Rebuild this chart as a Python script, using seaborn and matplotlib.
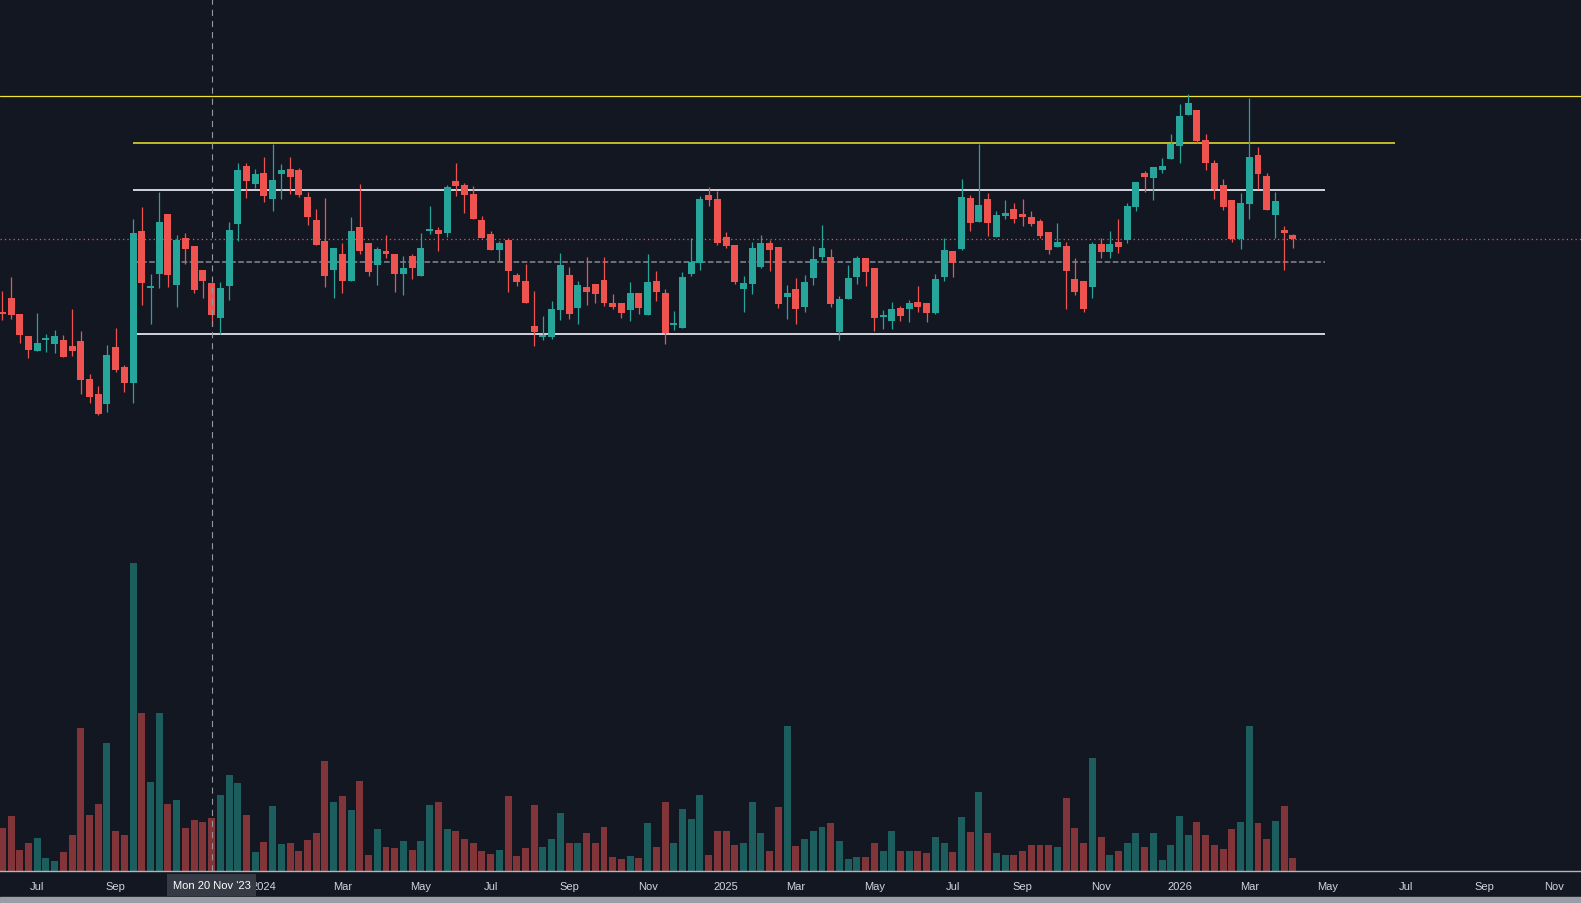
import numpy as np
import pandas as pd
import seaborn as sns
import matplotlib.pyplot as plt
from matplotlib.patches import Rectangle

# ===== weekly bars, first bar on Mon 5 Jun 2023 =====
start_date = "2023-06-05"

open_ = [68.6, 70.1, 68.5, 66.3, 64.8, 65.95, 65.5, 65.9, 65.3, 65.8,
         62.0, 60.5, 59.5, 65.2, 63.2, 61.6, 76.8, 71.15, 72.5, 78.5,
         71.4, 76.1, 75.3, 72.9, 71.6, 68.1, 71.3, 77.5, 83.3, 81.5,
         82.6, 80.0, 82.5, 83.0, 82.9, 80.2, 77.9, 75.8, 72.9, 74.5,
         71.8, 77.2, 75.6, 73.4, 74.8, 74.5, 72.5, 74.3, 72.3, 76.85,
         76.9, 76.6, 81.8, 81.4, 80.5, 77.9, 76.5, 74.9, 75.9, 72.4,
         71.8, 67.3, 66.25, 66.2, 68.9, 72.4, 69.1, 71.2, 71.5, 71.9,
         69.6, 69.6, 68.9, 70.6, 68.4, 71.8, 70.6, 67.45, 67.1, 72.5,
         73.6, 80.4, 80.0, 76.2, 75.4, 71.0, 71.5, 73.2, 75.6, 75.2,
         70.2, 71.0, 69.2, 72.1, 74.2, 74.2, 66.7, 70.0, 72.2, 74.1,
         73.1, 68.25, 67.8, 69.1, 69.0, 69.7, 69.6, 68.6, 72.2, 74.8,
         75.0, 80.1, 77.7, 80.0, 76.2, 78.3, 79.0, 78.5, 78.2, 77.8,
         76.7, 75.2, 75.3, 72.0, 71.8, 71.2, 75.5, 74.7, 75.7, 75.9,
         79.2, 82.6, 82.1, 82.9, 84.0, 85.3, 88.4, 88.9, 85.9, 83.6,
         81.4, 79.9, 76.0, 79.5, 84.4, 82.3, 78.4, 76.9, 76.4]

high = [70.8, 72.2, 68.5, 66.3, 68.6, 66.5, 66.9, 66.4, 69.0, 66.8,
        62.5, 61.3, 65.4, 67.1, 63.4, 78.0, 79.2, 72.5, 80.7, 78.5,
        76.4, 76.6, 75.3, 72.9, 71.6, 71.7, 77.7, 83.6, 83.6, 83.0,
        84.2, 85.5, 83.5, 84.2, 83.1, 80.7, 79.0, 80.1, 75.1, 75.6,
        78.2, 81.5, 75.6, 75.2, 76.4, 74.5, 74.3, 74.5, 76.6, 79.3,
        77.2, 81.4, 83.6, 81.6, 81.3, 78.3, 76.8, 75.8, 76.1, 72.6,
        73.5, 70.8, 68.3, 69.8, 74.6, 73.2, 71.8, 74.2, 71.5, 74.2,
        70.5, 69.6, 71.7, 70.6, 74.5, 72.8, 71.0, 68.8, 72.7, 76.1,
        80.3, 81.2, 80.8, 76.7, 75.4, 72.3, 75.7, 76.4, 75.9, 75.2,
        71.4, 72.1, 72.4, 75.3, 77.4, 75.0, 70.3, 73.4, 74.3, 74.1,
        73.1, 68.9, 69.7, 69.3, 69.9, 71.3, 69.6, 72.5, 76.1, 74.8,
        82.0, 80.4, 85.5, 80.6, 78.8, 79.9, 79.6, 80.0, 78.8, 78.0,
        76.7, 77.6, 75.7, 74.1, 71.8, 75.7, 76.1, 76.8, 78.0, 79.6,
        81.7, 82.8, 83.2, 84.1, 86.5, 89.5, 90.5, 88.9, 86.5, 83.9,
        82.0, 79.9, 80.6, 90.1, 85.2, 82.6, 80.7, 77.3, 76.5]

low = [67.9, 68.0, 65.6, 64.1, 64.8, 64.7, 64.6, 64.2, 64.3, 60.5,
       59.6, 58.4, 58.7, 62.7, 60.7, 59.6, 69.4, 67.5, 71.1, 71.2,
       69.2, 73.5, 70.6, 70.1, 67.3, 66.5, 69.9, 75.8, 80.1, 81.1,
       79.7, 78.8, 80.0, 80.5, 80.2, 77.4, 75.4, 71.2, 70.1, 70.6,
       71.8, 74.5, 72.3, 71.4, 74.1, 70.7, 70.4, 72.0, 72.3, 76.5,
       74.8, 76.2, 80.3, 78.6, 78.0, 76.1, 74.9, 73.8, 70.7, 71.3,
       69.6, 65.3, 65.9, 66.0, 67.9, 68.0, 67.5, 69.4, 69.6, 69.3,
       69.0, 68.1, 67.8, 68.5, 68.4, 69.8, 65.5, 66.9, 67.1, 72.3,
       72.9, 79.3, 75.4, 75.1, 71.5, 68.7, 70.5, 73.1, 72.8, 69.1,
       68.0, 67.5, 68.7, 71.4, 73.9, 69.2, 65.9, 70.0, 71.5, 71.3,
       66.8, 67.0, 67.0, 67.8, 67.7, 68.7, 67.7, 68.5, 71.8, 72.2,
       74.9, 76.8, 77.7, 76.3, 76.2, 78.0, 77.6, 77.3, 77.3, 76.1,
       74.5, 75.2, 69.0, 70.4, 68.7, 70.1, 74.1, 74.1, 74.6, 75.6,
       78.8, 80.7, 79.9, 82.6, 84.0, 83.6, 88.4, 85.6, 82.9, 80.0,
       78.9, 75.7, 75.0, 78.0, 81.0, 78.9, 76.1, 72.9, 75.1]

close = [68.55, 68.4, 66.4, 64.9, 65.6, 66.0, 66.3, 64.2, 64.8, 61.9,
         60.2, 58.5, 64.4, 62.9, 61.6, 76.6, 71.6, 71.2, 77.7, 72.4,
         75.9, 75.0, 70.9, 71.8, 68.4, 71.1, 76.9, 82.9, 81.8, 82.5,
         80.3, 81.9, 82.9, 82.2, 80.4, 78.2, 75.4, 72.3, 75.1, 71.8,
         76.8, 74.8, 72.7, 75.0, 74.5, 72.5, 73.1, 73.1, 75.1, 76.9,
         76.5, 81.2, 81.3, 80.4, 78.0, 76.1, 74.9, 75.6, 72.8, 71.7,
         69.6, 66.7, 66.3, 69.0, 73.4, 68.5, 71.4, 70.7, 70.5, 69.6,
         69.2, 68.6, 70.6, 69.1, 71.7, 70.7, 66.6, 67.5, 72.2, 73.7,
         80.0, 79.9, 75.6, 75.3, 71.7, 71.6, 75.1, 75.6, 74.9, 69.5,
         70.6, 69.0, 71.7, 74.0, 75.1, 69.5, 70.0, 72.1, 74.1, 72.7,
         68.1, 68.3, 69.0, 68.3, 69.6, 69.2, 68.6, 72.0, 74.9, 73.6,
         80.2, 77.6, 79.4, 77.6, 78.4, 78.6, 78.0, 78.2, 77.5, 76.3,
         74.9, 75.7, 72.8, 70.7, 69.0, 75.5, 74.7, 75.5, 75.2, 79.3,
         81.7, 82.2, 83.2, 83.3, 85.5, 88.3, 89.6, 85.8, 83.6, 81.0,
         79.2, 76.0, 79.6, 84.2, 82.5, 78.9, 79.8, 76.6, 76.0]

volume = [4.3, 5.5, 2.1, 2.8, 3.3, 1.3, 1.0, 1.9, 3.6, 14.3,
          5.6, 6.7, 12.8, 4.0, 3.6, 30.8, 15.8, 8.9, 15.8, 6.7,
          7.1, 4.3, 5.1, 4.9, 5.3, 7.6, 9.6, 8.8, 5.6, 1.9,
          2.9, 6.5, 2.7, 2.8, 2.0, 3.1, 3.8, 11.0, 6.9, 7.5,
          6.1, 9.0, 1.6, 4.2, 2.4, 2.3, 3.0, 2.1, 3.0, 6.6,
          6.9, 4.2, 4.0, 3.2, 2.8, 2.0, 1.7, 2.1, 7.5, 1.5,
          2.3, 6.6, 2.4, 3.2, 5.8, 2.8, 2.8, 3.8, 2.8, 4.4,
          1.4, 1.2, 1.5, 1.3, 4.8, 2.4, 6.9, 2.8, 6.2, 5.2,
          7.6, 1.6, 4.0, 4.0, 2.6, 2.8, 6.9, 3.8, 2.0, 6.4,
          14.5, 2.5, 3.2, 4.0, 4.4, 4.8, 3.0, 1.2, 1.4, 1.4,
          2.8, 2.0, 4.0, 2.0, 2.0, 2.0, 1.8, 3.4, 2.8, 1.9,
          5.4, 3.9, 7.9, 3.8, 1.8, 1.6, 1.6, 2.0, 2.6, 2.6,
          2.6, 2.4, 7.3, 4.3, 2.8, 11.3, 3.4, 1.6, 2.0, 2.8,
          3.8, 2.4, 3.8, 1.1, 2.6, 5.5, 3.6, 4.9, 3.6, 2.6,
          2.2, 4.2, 4.9, 14.5, 4.8, 3.2, 5.0, 6.5, 1.3]

tick_dates = ["2023-07-03", "2023-09-04", "2024-01-01", "2024-03-04", "2024-05-06",
              "2024-07-01", "2024-09-02", "2024-11-04", "2025-01-06", "2025-03-03",
              "2025-05-05", "2025-07-07", "2025-09-01", "2025-11-03", "2026-01-05",
              "2026-03-02", "2026-05-04", "2026-07-06", "2026-09-07", "2026-11-02"]
tick_labels = ["Jul", "Sep", "2024", "Mar", "May", "Jul", "Sep", "Nov", "2025", "Mar",
               "May", "Jul", "Sep", "Nov", "2026", "Mar", "May", "Jul", "Sep", "Nov"]

crosshair_date = "2023-11-20"
crosshair_label = "Mon 20 Nov '23"

# drawn levels: (price, start, end, colour, style)
level_start = "2023-09-18"
top_level = 90.35
levels = [
    (85.6, level_start, "2026-06-27", "#f2e42c", "-"),
    (80.95, level_start, "2026-05-02", "#d1d4dc", "-"),
    (73.7, level_start, "2026-05-02", "#868993", "--"),
    (66.55, level_start, "2026-05-02", "#d1d4dc", "-"),
]

BG = "#131722"
UP, DOWN = "#26a69a", "#ef5350"
VOL_UP, VOL_DOWN = "#1c5e5e", "#813539"
TXT = "#d1d4dc"

t0 = pd.Timestamp(start_date)


def week_pos(d):
    return (pd.Timestamp(d) - t0).days / 7.0


sns.set_theme(style="dark", rc={"axes.facecolor": BG, "figure.facecolor": BG})
plt.rcParams["font.family"] = ["Liberation Sans", "DejaVu Sans"]

o = np.array(open_)
h = np.array(high)
l = np.array(low)
c = np.array(close)
x = np.arange(len(o))
up = c >= o
cols = np.where(up, UP, DOWN)

fig = plt.figure(figsize=(15.81, 9.04), dpi=100)
fig.patch.set_facecolor(BG)
ax = fig.add_axes([0, 32 / 904, 1, 872 / 904])
axv = ax.twinx()
ax.set_zorder(2)
ax.patch.set_visible(False)
axv.set_zorder(1)
axv.patch.set_facecolor(BG)

# ===== volume (seaborn) =====
vdf = pd.DataFrame({"x": x, "volume": volume, "dir": np.where(up, "up", "down")})
sns.barplot(data=vdf, x="x", y="volume", hue="dir", palette={"up": VOL_UP, "down": VOL_DOWN},
            native_scale=True, dodge=False, width=0.8, saturation=1, errorbar=None,
            legend=False, linewidth=0, ax=axv)
axv.set_ylim(0, 87.2)

# ===== candles =====
body_lo = np.minimum(o, c)
body_h = np.maximum(np.abs(c - o), 0.12)
ax.vlines(x, l, h, colors=cols, linewidth=0.9, zorder=3)
ax.bar(x, body_h, bottom=body_lo, width=0.8, color=cols, linewidth=0, zorder=4)

# ===== levels =====
ax.axhline(top_level, color="#f2e42c", lw=0.9, zorder=2)
for price, s, e, col, ls in levels:
    lw = 1.4 if ls == "-" and col != "#f2e42c" else 1.1
    ax.hlines(price, week_pos(s), week_pos(e), colors=col, linestyles=ls, lw=lw, zorder=2)
ax.axhline(c[-1], color=DOWN, lw=0.9, ls=(0, (1, 2.5)), zorder=2)

# crosshair
cx = week_pos(crosshair_date)
ax.axvline(cx, color="#9598a1", lw=0.8, ls=(0, (5.5, 4.5)), zorder=5)
ax.annotate(crosshair_label, xy=(cx, 0), xycoords=("data", "axes fraction"),
            xytext=(0, -14), textcoords="offset pixels", ha="center", va="center",
            color="white", fontsize=8, zorder=10, annotation_clip=False,
            bbox=dict(boxstyle="square,pad=0.5", fc="#363a45", ec="none"))

ax.set_xlim(-0.264, 181.04)
ax.set_ylim(12.8, 100)
ax.set_xticks([week_pos(d) for d in tick_dates])
ax.set_xticklabels(tick_labels)
ax.tick_params(axis="x", length=0, pad=7, colors=TXT, labelsize=8)
ax.set_yticks([])
axv.set_yticks([])
for a in (ax, axv):
    a.set_xlabel("")
    a.set_ylabel("")
    a.grid(False)
    for s in a.spines.values():
        s.set_visible(False)
ax.spines["bottom"].set_visible(True)
ax.spines["bottom"].set_color("#b2b5be")
ax.spines["bottom"].set_linewidth(1.0)

fig.add_artist(Rectangle((0, 1 / 904), 1, 5 / 904, transform=fig.transFigure,
                         color="#9a9da6", zorder=1))

fig.savefig("out.png", dpi=100, facecolor=BG)
